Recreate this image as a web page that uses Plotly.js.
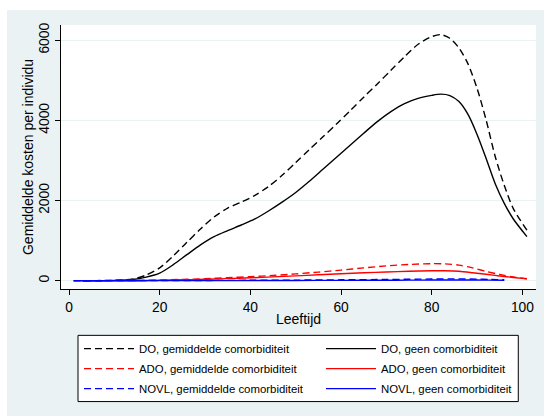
<!DOCTYPE html>
<html>
<head>
<meta charset="utf-8">
<script src="https://cdn.plot.ly/plotly-3.0.1.min.js"></script>
<style>
  html, body { margin: 0; padding: 0; background: #ffffff; width: 544px; height: 416px; overflow: hidden; }
  #chart { position: absolute; left: 7px; top: 10px; width: 537px; height: 406px; }
</style>
</head>
<body>
<div id="chart"></div>
<script>
// Ages (Leeftijd) and mean costs per individual (Gemiddelde kosten per individu)
var agesDO = [3, 6, 10, 14, 17, 20, 23, 26, 29, 32, 35, 38, 41, 44, 47, 50, 53, 56, 59, 62, 65, 68, 71, 74, 77, 80, 82, 84, 86, 88, 90, 92, 94, 96, 98, 101];
var doGemiddeld = [0, 2, 10, 40, 140, 320, 620, 960, 1290, 1590, 1810, 1960, 2130, 2350, 2630, 2950, 3270, 3590, 3910, 4240, 4580, 4910, 5250, 5590, 5900, 6090, 6140, 6050, 5810, 5410, 4800, 4010, 3100, 2380, 1800, 1260];
var doGeen = [0, 2, 8, 30, 90, 190, 400, 650, 895, 1100, 1250, 1390, 1540, 1740, 1960, 2200, 2480, 2780, 3080, 3380, 3680, 3970, 4220, 4420, 4550, 4625, 4655, 4620, 4470, 4150, 3650, 3050, 2420, 1930, 1540, 1100];

var agesADO = [3, 10, 15, 20, 25, 30, 35, 40, 45, 50, 55, 60, 65, 70, 75, 80, 83, 86, 89, 92, 95, 98, 101];
var adoGemiddeld = [0, 3, 8, 18, 32, 50, 75, 100, 130, 170, 215, 265, 320, 370, 405, 425, 420, 390, 320, 230, 155, 95, 50];
var adoGeen = [0, 2, 5, 12, 22, 35, 52, 72, 95, 120, 148, 175, 198, 218, 235, 248, 248, 235, 200, 160, 118, 80, 45];

var agesNOVL = [1, 10, 20, 30, 40, 50, 60, 70, 75, 80, 85, 90, 93, 96];
var novlGemiddeld = [0, 1, 3, 6, 10, 15, 22, 30, 36, 42, 45, 40, 32, 25];
var novlGeen = [0, 0, 1, 2, 4, 6, 9, 12, 14, 16, 17, 16, 14, 12];

var seriesNames = [
  'DO, gemiddelde comorbiditeit', 'DO, geen comorbiditeit',
  'ADO, gemiddelde comorbiditeit', 'ADO, geen comorbiditeit',
  'NOVL, gemiddelde comorbiditeit', 'NOVL, geen comorbiditeit'
];
var xTicks = [0, 20, 40, 60, 80, 100];
var yTicks = [0, 2000, 4000, 6000];

var FONT = 'Liberation Sans, Arial, sans-serif';
var DASH = '7px,4px';
var LW = 1.4;

function tr(x, y, name, color, dash, legendId, group) {
  return {
    x: x, y: y, name: name, type: 'scatter', mode: 'lines',
    line: { color: color, width: LW, dash: dash, shape: 'spline', smoothing: 0.8 },
    legend: legendId, legendgroup: group,
    hoverinfo: 'skip'
  };
}

var data = [
  tr(agesDO, doGemiddeld, seriesNames[0], '#000000', DASH, 'legend', 'g0'),
  tr(agesDO, doGeen, seriesNames[1], '#000000', 'solid', 'legend2', 'g1'),
  tr(agesADO, adoGemiddeld, seriesNames[2], '#ff0000', DASH, 'legend', 'g2'),
  tr(agesADO, adoGeen, seriesNames[3], '#ff0000', 'solid', 'legend2', 'g3'),
  tr(agesNOVL, novlGemiddeld, seriesNames[4], '#0000ff', DASH, 'legend', 'g4'),
  tr(agesNOVL, novlGeen, seriesNames[5], '#0000ff', 'solid', 'legend2', 'g5')
];

function legendCol(xpos) {
  return {
    orientation: 'v',
    x: xpos, xanchor: 'left',
    y: -0.171, yanchor: 'top',
    bgcolor: 'rgba(0,0,0,0)', borderwidth: 0,
    font: { family: FONT, size: 11.4, color: '#000000' },
    itemwidth: 50,
    traceorder: 'grouped', tracegroupgap: 1,
    itemclick: false, itemdoubleclick: false
  };
}

var layout = {
  width: 537, height: 406,
  paper_bgcolor: '#eaf2f3',
  plot_bgcolor: '#ffffff',
  font: { family: FONT, color: '#000000', size: 13 },
  margin: { l: 54.3, r: 8.3, t: 15, b: 126.7, pad: 0 },
  showlegend: true,
  xaxis: {
    range: [-1.77, 103.0],
    tickvals: xTicks,
    ticktext: xTicks.map(String),
    ticks: 'outside', ticklen: 5, tickwidth: 1, tickcolor: '#000000',
    showline: true, linecolor: '#000000', linewidth: 1, mirror: false,
    showgrid: false, zeroline: false,
    tickfont: { family: FONT, size: 13.8, color: '#000000' },
    title: { text: 'Leeftijd', font: { family: FONT, size: 14, color: '#000000' }, standoff: 0 }
  },
  yaxis: {
    range: [-207, 6381],
    tickvals: yTicks,
    ticktext: yTicks.map(String),
    tickangle: -90,
    ticks: 'outside', ticklen: 5, tickwidth: 1, tickcolor: '#000000',
    showline: true, linecolor: '#000000', linewidth: 1, mirror: false,
    showgrid: true, gridcolor: '#eaf2f3', gridwidth: 1, zeroline: false,
    tickfont: { family: FONT, size: 13.8, color: '#000000' },
    title: { text: 'Gemiddelde kosten per individu', font: { family: FONT, size: 14, color: '#000000' }, standoff: 0 }
  },
  legend: legendCol(0.0379),
  legend2: legendCol(0.5474),
  shapes: [{
    type: 'rect', xref: 'paper', yref: 'paper',
    x0: 0.0358, x1: 0.9627, y0: -0.1756, y1: -0.4264,
    line: { color: '#000000', width: 1 }, fillcolor: '#ffffff', layer: 'above'
  }]
};

Plotly.newPlot('chart', data, layout, { staticPlot: true, displayModeBar: false });
</script>
</body>
</html>
